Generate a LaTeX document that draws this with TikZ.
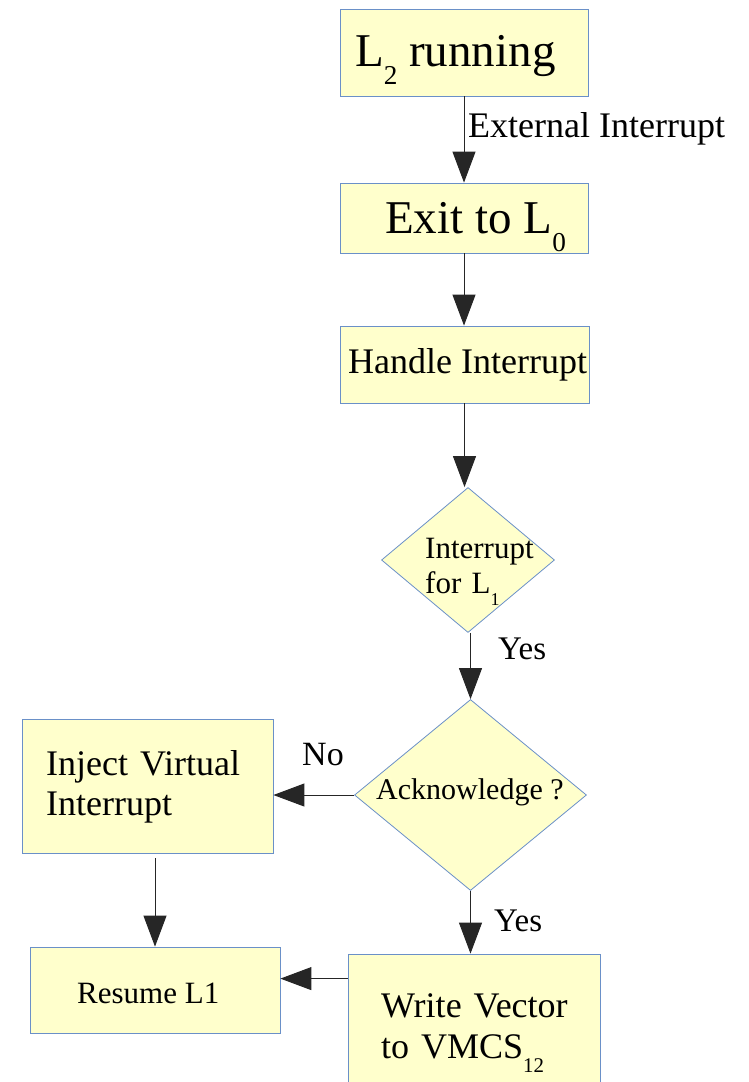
\documentclass[tikz,border=0pt]{standalone}
\usepackage{fontspec}
\setmainfont{Liberation Serif}
\usepackage{xcolor}
\usepackage{tikz}
\usetikzlibrary{arrows.meta, shapes.geometric}

\definecolor{boxfill}{HTML}{FFFFCC}
\definecolor{boxline}{HTML}{6A90C8}
\newcommand{\bigtxt}{\fontsize{47}{52}\selectfont}
\newcommand{\midtxt}{\fontsize{36}{40.5}\selectfont}
\newcommand{\smalltxt}{\fontsize{31}{35}\selectfont}
\newcommand{\lowsub}[1]{\raisebox{-0.4em}{\scalebox{0.58}{#1}}}

\begin{document}
\begin{tikzpicture}[x=1pt, y=-1pt,
	box/.style={draw=boxline, fill=boxfill, line width=0.8pt, inner sep=0pt},
	decision/.style={diamond, draw=boxline, fill=boxfill, line width=0.8pt, inner sep=0pt},
	txt/.style={anchor=base west, inner sep=0pt, align=left},
	flow/.style={-{Triangle[length=31pt, width=23pt]}, draw=black!85, line width=1pt}]

	\useasboundingbox (0,0) rectangle (748,1082);

	% boxes and decisions
	\node[box, minimum width=248, minimum height=87] (l2run) at (464,52.5) {};
	\node[box, minimum width=248, minimum height=70] (exit) at (464,218) {};
	\node[box, minimum width=249, minimum height=77] (handle) at (464.5,364.5) {};
	\node[decision, minimum width=173, minimum height=145] (forl1) at (468,560) {};
	\node[decision, minimum width=232, minimum height=191] (ack) at (470.5,795) {};
	\node[box, minimum width=251, minimum height=134] (inject) at (147.5,786) {};
	\node[box, minimum width=250, minimum height=86] (resume) at (155,990) {};
	\node[box, minimum width=252, minimum height=140] (write) at (474,1024) {};

	% texts
	\node[txt, font=\bigtxt] (l2runtxt) at (355,66) {L\lowsub{2} running};
	\node[txt, font=\bigtxt] (exittxt) at (385,233) {Exit to L\lowsub{0}};
	\node[txt, font=\midtxt] (handletxt) at (348,373) {Handle Interrupt};
	\node[txt, font=\smalltxt, text width=150] (forl1txt) at (425,558) {Interrupt\\for L\lowsub{1}};
	\node[txt, font=\fontsize{30}{34}\selectfont] (acktxt) at (376,799) {Acknowledge ?};
	\node[txt, font=\midtxt, text width=220] (injecttxt) at (46,775) {Inject Virtual\\Interrupt};
	\node[txt, font=\smalltxt] (resumetxt) at (77,1003) {Resume L1};
	\node[txt, font=\fontsize{36}{41}\selectfont, text width=220] (writetxt) at (381,1017) {Write Vector\\to VMCS\lowsub{12}};

	% connectors
	\draw[flow] (l2run.south) -- (exit.north);
	\draw[flow] (exit.south) -- (exit.south |- handle.north);
	\draw[flow] (handle.south) -- (handle.south |- forl1.north);
	\draw[flow] (ack.north |- forl1.south) -- (ack.north);
	\draw[flow] (ack.south) -- (ack.south |- write.north);
	\draw[flow] (ack.west) -- (ack.west -| inject.east);
	\draw[flow, shorten <=5pt] (inject.south -| resume.north) -- (resume.north);
	\coordinate (wv) at ([yshift=-25pt]write.north west);
	\draw[flow] (wv) -- (wv -| resume.east);

	% connector labels
	\node[txt, font=\fontsize{36}{40}\selectfont] (extlbl) at (468,137) {External Interrupt};
	\node[txt, font=\fontsize{33}{38}\selectfont] (yes1lbl) at (498,659) {Yes};
	\node[txt, font=\fontsize{34}{38}\selectfont] (nolbl) at (302,765) {No};
	\node[txt, font=\fontsize{33}{38}\selectfont] (yes2lbl) at (494,931) {Yes};
\end{tikzpicture}
\end{document}
